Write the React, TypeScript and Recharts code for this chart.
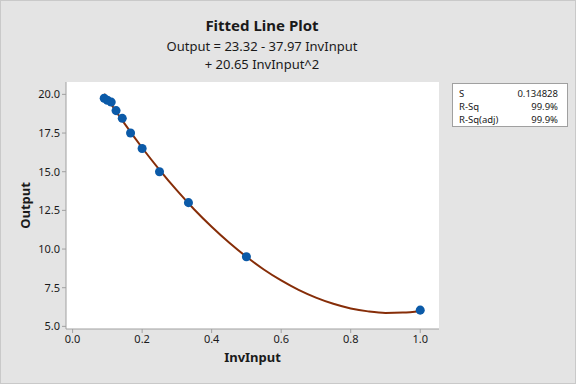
import React from "react";
import { ScatterChart, Scatter, XAxis, YAxis, ZAxis, CartesianGrid } from "recharts";

const invInput = [0.0909, 0.1, 0.1111, 0.125, 0.1429, 0.1667, 0.2, 0.25, 0.3333, 0.5, 1.0];
const output = [19.75, 19.62, 19.5, 18.95, 18.45, 17.5, 16.5, 15.0, 13.0, 9.5, 6.05];

const fitX = [0.0909, 0.12, 0.15, 0.2, 0.25, 0.3, 0.35, 0.4, 0.45, 0.5, 0.55, 0.6, 0.65, 0.7, 0.75, 0.8, 0.85, 0.9, 0.95, 1.0];
const fitY = [20.04, 19.06, 18.09, 16.55, 15.12, 13.79, 12.56, 11.44, 10.42, 9.5, 8.68, 7.97, 7.36, 6.86, 6.46, 6.16, 5.97, 5.87, 5.89, 6.0];

const xTicks = [0, 0.2, 0.4, 0.6, 0.8, 1.0];
const yTicks = [5, 7.5, 10, 12.5, 15, 17.5, 20];

const stats = [
    { label: "S", value: "0.134828" },
    { label: "R-Sq", value: "99.9%" },
    { label: "R-Sq(adj)", value: "99.9%" },
];

const FONT = "'Noto Sans', 'Open Sans', sans-serif";
const AXIS_GREY = "#a0a0a0";

const points = invInput.map((x, i) => ({ x, y: output[i] }));
const fitLine = fitX.map((x, i) => ({ x, y: fitY[i] }));

export default function App() {
    return (
        <div
            style={{
                position: "absolute",
                left: 0,
                top: 0,
                width: 576,
                height: 384,
                boxSizing: "border-box",
                background: "#e4e4e4",
                border: "1px solid #c9c9c9",
                fontFamily: FONT,
                color: "#1a1a1a",
            }}
        >
            <div style={{ position: "absolute", left: 0, width: 522, top: 14, textAlign: "center", fontSize: 15, fontWeight: 700, lineHeight: "20px" }}>
                Fitted Line Plot
            </div>
            <div style={{ position: "absolute", left: 0, width: 522, top: 36, textAlign: "center", fontSize: 13, lineHeight: "18px" }}>
                Output = 23.32 - 37.97 InvInput
                <br />+ 20.65 InvInput^2
            </div>

            <div
                style={{
                    position: "absolute",
                    left: 451,
                    top: 82,
                    width: 116,
                    height: 44,
                    boxSizing: "border-box",
                    background: "#fff",
                    border: "1px solid #a0a0a0",
                    padding: "3px 9px 0 6px",
                    fontSize: 9.5,
                    lineHeight: "13px",
                }}
            >
                {stats.map((s) => (
                    <div key={s.label} style={{ display: "flex", justifyContent: "space-between" }}>
                        <span>{s.label}</span>
                        <span>{s.value}</span>
                    </div>
                ))}
            </div>

            <ScatterChart
                width={576}
                height={384}
                margin={{ top: 82, right: 137, bottom: 25, left: 6 }}
                style={{ position: "absolute", left: -1, top: -1 }}
            >
                <CartesianGrid horizontal={false} vertical={false} fill="#ffffff" />
                <ZAxis range={[42, 42]} />
                <XAxis
                    xAxisId="top"
                    orientation="top"
                    type="number"
                    dataKey="x"
                    domain={[-0.019, 1.054]}
                    tick={false}
                    tickLine={false}
                    height={0}
                    axisLine={{ stroke: AXIS_GREY }}
                />
                <YAxis
                    yAxisId="right"
                    orientation="right"
                    type="number"
                    dataKey="y"
                    domain={[4.83, 20.8]}
                    tick={false}
                    tickLine={false}
                    width={0}
                    axisLine={{ stroke: AXIS_GREY }}
                />
                <XAxis
                    type="number"
                    dataKey="x"
                    domain={[-0.019, 1.054]}
                    ticks={xTicks}
                    tickFormatter={(v: number) => v.toFixed(1)}
                    axisLine={{ stroke: AXIS_GREY }}
                    tickLine={{ stroke: AXIS_GREY }}
                    tickSize={4}
                    height={30}
                    tick={{ fontSize: 11, fill: "#1a1a1a", fontFamily: FONT }}
                    label={{ value: "InvInput", position: "insideBottom", offset: -3, fontSize: 13, fontWeight: 700, fill: "#1a1a1a", fontFamily: FONT }}
                />
                <YAxis
                    type="number"
                    dataKey="y"
                    domain={[4.83, 20.8]}
                    ticks={yTicks}
                    tickFormatter={(v: number) => v.toFixed(1)}
                    axisLine={{ stroke: AXIS_GREY }}
                    tickLine={{ stroke: AXIS_GREY }}
                    tickSize={4}
                    width={60}
                    tick={{ fontSize: 11, fill: "#1a1a1a", fontFamily: FONT }}
                    label={{ value: "Output", angle: -90, position: "insideLeft", offset: 19, fontSize: 13, fontWeight: 700, fill: "#1a1a1a", fontFamily: FONT, style: { textAnchor: "middle" } }}
                />
                <Scatter
                    data={fitLine}
                    line={{ stroke: "#862d08", strokeWidth: 2 }}
                    lineJointType="monotoneX"
                    shape={() => null}
                    isAnimationActive={false}
                />
                <Scatter data={points} fill="#0b5aa8" shape="circle" isAnimationActive={false} />
            </ScatterChart>
        </div>
    );
}
